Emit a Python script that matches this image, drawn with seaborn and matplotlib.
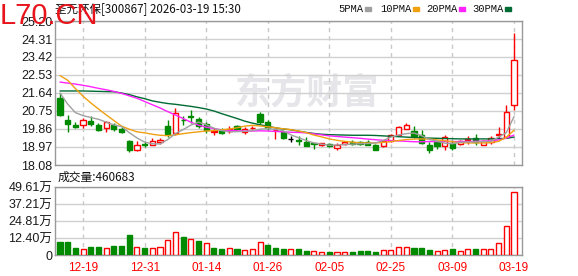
import numpy as np
import pandas as pd
import matplotlib
matplotlib.use('Agg')
import matplotlib.pyplot as plt
import seaborn as sns

# ---------------- data ----------------
dates = ['12-16', '12-17', '12-18', '12-19', '12-22', '12-23', '12-24', '12-25', '12-26', '12-29',
         '12-30', '12-31', '01-05', '01-06', '01-07', '01-08', '01-09', '01-12', '01-13', '01-14',
         '01-15', '01-16', '01-19', '01-20', '01-21', '01-22', '01-23', '01-26', '01-27', '01-28',
         '01-29', '01-30', '02-02', '02-03', '02-04', '02-05', '02-06', '02-09', '02-10', '02-11',
         '02-12', '02-13', '02-24', '02-25', '02-26', '02-27', '03-02', '03-03', '03-04', '03-05',
         '03-06', '03-09', '03-10', '03-11', '03-12', '03-13', '03-16', '03-17', '03-18', '03-19']
tick_dates = ['12-19', '12-31', '01-14', '01-26', '02-05', '02-25', '03-09', '03-19']

opens = [21.39, 20.32, 20.07, 20.04, 20.24, 20.07, 19.91, 20.07, 19.86, 19.29,
         18.81, 19.13, 19.09, 19.22, 20.03, 19.67, 20.32, 20.50, 20.36, 20.12,
         19.71, 19.83, 19.74, 19.99, 19.72, 19.90, 20.62, 20.19, 19.79, 19.69,
         19.37, 19.34, 19.20, 19.17, 19.07, 19.12, 18.92, 19.13, 19.20, 19.20,
         19.20, 19.05, 19.01, 19.29, 19.58, 19.88, 19.74, 19.58, 19.05, 19.20,
         19.00, 19.17, 19.13, 19.32, 19.42, 19.09, 19.22, 19.55, 19.45, 21.06]
highs = [21.64, 20.57, 20.19, 20.40, 20.48, 20.16, 20.27, 20.16, 19.96, 19.34,
         19.25, 19.25, 19.42, 19.42, 20.29, 20.90, 20.52, 20.81, 20.45, 20.19,
         19.91, 19.91, 19.99, 20.07, 19.94, 19.99, 20.68, 20.32, 19.91, 19.74,
         19.50, 19.50, 19.45, 19.17, 19.17, 19.17, 19.17, 19.27, 19.30, 19.27,
         19.30, 19.10, 19.34, 19.62, 19.99, 20.16, 19.99, 19.83, 19.22, 19.34,
         19.55, 19.34, 19.34, 19.50, 19.62, 19.34, 19.50, 19.94, 21.06, 24.59]
lows = [20.52, 19.71, 19.91, 19.92, 20.03, 19.74, 19.70, 19.78, 19.66, 18.71,
        18.76, 18.96, 19.09, 19.14, 19.47, 19.58, 20.07, 20.16, 19.91, 19.67,
        19.58, 19.63, 19.67, 19.79, 19.62, 19.85, 20.12, 19.79, 19.37, 19.37,
        19.22, 19.09, 19.01, 18.89, 19.01, 18.96, 18.84, 19.05, 19.09, 19.05,
        19.09, 18.84, 18.96, 19.22, 19.55, 19.88, 19.42, 19.12, 18.68, 18.89,
        18.84, 18.84, 19.05, 19.12, 19.09, 19.09, 19.12, 19.42, 19.42, 20.81]
closes = [20.57, 20.11, 19.96, 20.32, 20.11, 19.83, 20.19, 19.88, 19.69, 18.84,
          19.09, 19.08, 19.28, 19.33, 19.60, 20.65, 20.29, 20.46, 19.99, 19.83,
          19.78, 19.67, 19.86, 19.88, 19.86, 19.93, 20.19, 19.91, 19.81, 19.42,
          19.37, 19.28, 19.01, 19.12, 19.17, 19.01, 19.05, 19.22, 19.13, 19.10,
          19.05, 18.84, 19.29, 19.58, 19.94, 20.04, 19.50, 19.17, 18.84, 19.01,
          19.47, 18.93, 19.29, 19.35, 19.22, 19.29, 19.42, 19.62, 20.70, 23.28]

ma5 = [21.64, 21.09, 20.67, 20.52, 20.43, 20.34, 20.20, 20.06, 19.98, 19.68,
       19.42, 19.21, 19.13, 19.12, 19.34, 19.63, 19.83, 20.05, 20.20, 20.07,
       19.90, 19.78, 19.72, 19.73, 19.74, 19.78, 19.85, 19.88, 19.84, 19.78,
       19.57, 19.43, 19.29, 19.17, 19.11, 19.06, 19.07, 19.09, 19.11, 19.13,
       19.14, 19.17, 19.29, 19.46, 19.56, 19.63, 19.66, 19.53, 19.34, 19.26,
       19.16, 19.13, 19.20, 19.22, 19.22, 19.24, 19.25, 19.46, 19.68, 20.47]
ma10 = [22.50, 22.27, 21.86, 21.48, 21.15, 20.85, 20.56, 20.28, 20.00, 19.85,
        19.72, 19.67, 19.60, 19.55, 19.53, 19.57, 19.63, 19.68, 19.72, 19.76,
        19.78, 19.82, 19.86, 19.92, 20.00, 20.04, 20.01, 19.97, 19.92, 19.87,
        19.83, 19.76, 19.68, 19.56, 19.47, 19.37, 19.30, 19.25, 19.21, 19.17,
        19.17, 19.17, 19.20, 19.24, 19.29, 19.34, 19.36, 19.37, 19.36, 19.32,
        19.28, 19.23, 19.19, 19.17, 19.17, 19.17, 19.19, 19.25, 19.45, 19.80]
ma20 = [22.18, 22.13, 22.08, 22.02, 21.95, 21.87, 21.80, 21.72, 21.62, 21.50,
        21.38, 21.22, 21.06, 20.90, 20.72, 20.55, 20.38, 20.20, 20.05, 19.95,
        19.88, 19.82, 19.79, 19.77, 19.76, 19.76, 19.77, 19.76, 19.74, 19.72,
        19.70, 19.69, 19.67, 19.62, 19.57, 19.52, 19.49, 19.46, 19.43, 19.40,
        19.36, 19.33, 19.30, 19.29, 19.27, 19.25, 19.23, 19.23, 19.24, 19.24,
        19.24, 19.24, 19.24, 19.24, 19.25, 19.26, 19.28, 19.32, 19.41, 19.56]
ma30 = [21.74, 21.74, 21.74, 21.74, 21.73, 21.72, 21.71, 21.70, 21.64, 21.56,
        21.45, 21.36, 21.25, 21.18, 21.12, 21.08, 21.03, 20.98, 20.92, 20.85,
        20.75, 20.62, 20.50, 20.38, 20.25, 20.15, 20.07, 19.99, 19.92, 19.86,
        19.82, 19.75, 19.69, 19.64, 19.60, 19.58, 19.57, 19.56, 19.55, 19.55,
        19.55, 19.54, 19.52, 19.50, 19.48, 19.46, 19.44, 19.42, 19.41, 19.40,
        19.39, 19.38, 19.37, 19.37, 19.37, 19.37, 19.37, 19.38, 19.40, 19.46]

# volume in 万 shares
volume = [9.5, 9.5, 5.2, 4.1, 5.7, 5.7, 4.8, 6.4, 6.4, 14.3,
          6.2, 5.0, 5.0, 5.7, 10.7, 16.5, 12.9, 11.5, 10.2, 8.4,
          5.0, 4.3, 5.0, 4.3, 3.6, 4.1, 9.3, 7.2, 5.0, 4.3,
          4.3, 4.3, 3.1, 2.6, 1.9, 2.1, 1.9, 1.9, 2.1, 2.9,
          2.9, 2.1, 3.3, 3.3, 5.5, 5.5, 5.0, 5.0, 3.6, 2.6,
          3.3, 4.3, 2.6, 4.1, 4.3, 4.1, 4.1, 8.4, 21.2, 46.0683]
# 1 = rising day (red hollow bar), 0 = falling day (green bar)
vol_up = [0, 0, 0, 1, 0, 0, 1, 0, 0, 0, 1, 0, 1, 1, 1, 1, 0, 1, 0, 1,
          0, 0, 1, 0, 1, 1, 1, 0, 0, 0, 1, 0, 0, 1, 1, 0, 1, 1, 0, 0,
          0, 0, 1, 1, 1, 1, 0, 0, 0, 1, 1, 0, 1, 1, 0, 1, 1, 1, 1, 1]

price_ticks = [18.08, 18.97, 19.86, 20.75, 21.64, 22.53, 23.42, 24.31, 25.20]
vol_ticks = [0, 12.40, 24.81, 37.21, 49.61]

# ---------------- style ----------------
sns.set_theme(style='white')
plt.rcParams['font.family'] = ['Liberation Sans', 'Noto Sans CJK SC', 'DejaVu Sans']

RED = '#ff0000'
GREEN = '#008a00'
C5, C10, C20, C30 = '#a0a0a0', '#f0a010', '#ff22ff', '#006b33'
GRID = '#d0d0d0'
FRAME = '#999999'

W, H = 578, 276
fig = plt.figure(figsize=(W / 100, H / 100), dpi=100)
fig.patch.set_facecolor('white')


def axrect(l, t, r, b):
    return [l / W, 1 - b / H, (r - l) / W, (b - t) / H]


ax = fig.add_axes(axrect(55, 21, 522, 165))
axv = fig.add_axes(axrect(55, 187, 522, 255))

n = len(dates)
x = np.arange(n)
df = pd.DataFrame({'x': x, 'date': dates, 'open': opens, 'high': highs, 'low': lows,
                   'close': closes, 'ma5': ma5, 'ma10': ma10, 'ma20': ma20, 'ma30': ma30,
                   'vol': volume, 'up': vol_up})
tick_idx = [dates.index(d) for d in tick_dates]

# watermark of the data provider
ax.text(0.385, 0.50, '东方财富', transform=ax.transAxes, fontsize=26, color='#e6e6ea',
        family=['Noto Sans CJK SC'], fontweight='bold', ha='left', va='center', zorder=0.5)

# candles
cols = []
for o, c in zip(opens, closes):
    cols.append(RED if c > o else (GREEN if c < o else 'black'))
ax.vlines(x, lows, highs, colors=cols, linewidth=1.0, zorder=3)
body_lo = np.minimum(opens, closes)
body_h = np.abs(np.array(closes) - np.array(opens))
faces = ['white' if col == RED else col for col in cols]
ax.bar(x, body_h, bottom=body_lo, width=0.68, color=faces, edgecolor=cols,
       linewidth=1.0, zorder=4)

# moving averages
for col, c in [('ma30', C30), ('ma20', C20), ('ma10', C10), ('ma5', C5)]:
    sns.lineplot(data=df, x='x', y=col, ax=ax, color=c, linewidth=1.0, zorder=5, legend=False)

# volume bars
vcols = [RED if u else GREEN for u in vol_up]
vfaces = ['white' if u else GREEN for u in vol_up]
axv.bar(x, volume, width=0.66, color=vfaces, edgecolor=vcols, linewidth=1.0, zorder=3)

# axes styling
for a in (ax, axv):
    a.set_xlim(-0.65, 60.04)
    a.set_xlabel('')
    a.set_ylabel('')
    for s in a.spines.values():
        s.set_color(FRAME)
        s.set_linewidth(1.0)
        s.set_visible(True)
    a.tick_params(length=0, pad=2)
    for t in tick_idx:
        a.axvline(t, color='#c8c8c8', linestyle=(0, (3, 3)), linewidth=1.0, zorder=1)
    a.set_facecolor('white')

ax.set_ylim(18.08, 25.20)
ax.set_yticks(price_ticks)
ax.set_yticklabels([f'{v:.2f}' for v in price_ticks], fontsize=9, color='#1a1a1a')
for v in price_ticks:
    ax.axhline(v, color=GRID, linewidth=1.0, zorder=1)
ax.set_xticks(tick_idx)
ax.set_xticklabels([])

axv.set_ylim(0, 49.61)
axv.set_yticks(vol_ticks)
axv.set_yticklabels(['0'] + [f'{v:.2f}万' for v in vol_ticks[1:]], fontsize=9, color='#1a1a1a')
for v in vol_ticks:
    axv.axhline(v, color=GRID, linewidth=1.0, zorder=1)
axv.set_xticks(tick_idx)
axv.set_xticklabels(tick_dates, fontsize=8.5, color=RED)
axv.tick_params(axis='x', pad=5)

# header texts
fig.text(55 / W, 1 - 9 / H, '圣元环保[300867] 2026-03-19 15:30', fontsize=8.3,
         family=['Noto Sans CJK SC'], color='#111111', ha='left', va='center')
legend_items = [('5PMA', 338, 365, C5), ('10PMA', 380, 413, C10),
                ('20PMA', 426, 459, C20), ('30PMA', 472, 505, C30)]
for label, tx, sx, c in legend_items:
    fig.text(tx / W, 1 - 9 / H, label, fontsize=7.6, family=['Liberation Mono'],
             color='#111111', ha='left', va='center')
    fig.patches.append(plt.Rectangle((sx / W, 1 - 10.5 / H), 6 / W, 3 / H,
                                     transform=fig.transFigure, color=c, figure=fig))

fig.text(58 / W, 1 - 177 / H, '成交量:460683', fontsize=8.5,
         family=['Noto Sans CJK SC'], color='#111111', ha='left', va='center')

# site watermark
fig.text(0 / W, 1 - 16 / H, 'L70.CN', fontsize=21, color='#e8141c', ha='left', va='center',
         zorder=20)

fig.savefig('out.png', dpi=100)
